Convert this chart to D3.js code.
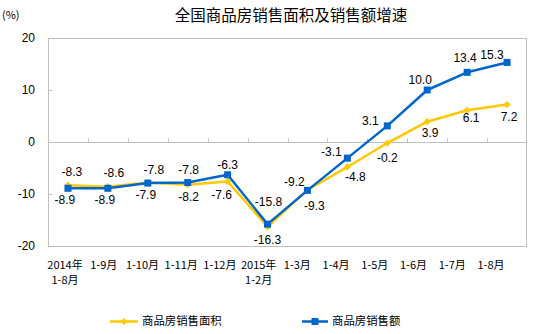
<!DOCTYPE html>
<html><head><meta charset="utf-8">
<script src="https://cdn.jsdelivr.net/npm/d3@7/dist/d3.min.js"></script>
<style>
html,body{margin:0;padding:0;background:#fff;}
svg{display:block;}
</style></head>
<body>
<svg id="chart" width="538" height="334"></svg>
<script>
const categories = ["2014年\n1-8月","1-9月","1-10月","1-11月","1-12月","2015年\n1-2月","1-3月","1-4月","1-5月","1-6月","1-7月","1-8月"];
const areaGrowth  = [-8.3,-8.6,-7.8,-8.2,-7.6,-16.3,-9.2,-4.8,-0.2,3.9,6.1,7.2];
const salesGrowth = [-8.9,-8.9,-7.9,-7.8,-6.3,-15.8,-9.3,-3.1,3.1,10.0,13.4,15.3];
const yTicks = [20,10,0,-10,-20];
const seriesNames = ["商品房销售面积","商品房销售额"];
const title = "全国商品房销售面积及销售额增速";

const svg = d3.select("#chart");
const L = 48, R = 527, T = 38, B = 246;
const yellow = "#FFC800", blue = "#0066CC", grid = "#BFBFBF";
const x = d3.scaleBand().domain(d3.range(categories.length)).range([L, R]);
const xc = i => x(i) + x.bandwidth()/2;
const y = d3.scaleLinear().domain([-20,20]).range([B, T]);
const xLab = d3.scalePoint().domain(d3.range(categories.length)).range([65, 491]);

// title
svg.append("text").attr("x",291).attr("y",16).attr("dy","0.35em").attr("text-anchor","middle")
  .style("font-family","'Noto Sans CJK SC'").style("font-size","15.5px").attr("fill","#000").text(title);
svg.append("text").attr("x",2).attr("y",15).attr("dy","0.35em")
  .style("font-family","'Noto Sans CJK SC'").style("font-size","11px").attr("fill","#000").text("(%)");

// frame
svg.append("rect").attr("x",L+0.5).attr("y",T+0.5).attr("width",R-L-1).attr("height",B-T)
  .attr("fill","none").attr("stroke",grid).attr("stroke-width",1);

// y axis
const yAxis = d3.axisRight(y).tickValues(yTicks).tickSize(4).tickFormat("");
const ga = svg.append("g").attr("transform",`translate(${L+0.5},0)`).call(yAxis);
ga.select(".domain").remove();
ga.selectAll("line").attr("stroke",grid);
svg.selectAll(".ylab").data(yTicks).enter().append("text")
  .attr("x",35).attr("y",d=>y(d)).attr("dy","0.35em").attr("text-anchor","end")
  .style("font-family","'Liberation Sans',Arial").style("font-size","12px").attr("fill","#000")
  .text(d=>d);

// zero line with upward ticks at category boundaries
const z = Math.round(y(0)) + 0.5;
svg.append("line").attr("x1",L).attr("x2",R).attr("y1",z).attr("y2",z).attr("stroke",grid);
svg.selectAll(".xt").data(d3.range(1,categories.length)).enter().append("line")
  .attr("x1",i=>Math.round(x(i))+0.5).attr("x2",i=>Math.round(x(i))+0.5)
  .attr("y1",z).attr("y2",z-4).attr("stroke",grid);

// x labels
categories.forEach((c,i)=>{
  const lines = c.split("\n");
  const t = svg.append("text").attr("text-anchor","middle")
    .style("font-family","'Noto Sans CJK SC'").style("font-size","11px").attr("fill","#000");
  lines.forEach((ln,k)=>{
    t.append("tspan").attr("x",xLab(i)).attr("y",265 + k*15).attr("dy","0.35em").text(ln);
  });
});

// lines
const line = d3.line().x((d,i)=>xc(i)).y(d=>y(d));
svg.append("path").datum(areaGrowth).attr("d",line).attr("fill","none")
  .attr("stroke",yellow).attr("stroke-width",2.5).attr("stroke-linejoin","round");
svg.selectAll(".dia").data(areaGrowth).enter().append("path")
  .attr("d",d3.symbol().type(d3.symbolDiamond2).size(34))
  .attr("transform",(d,i)=>`translate(${xc(i)},${y(d)})`).attr("fill",yellow);

svg.append("path").datum(salesGrowth).attr("d",line).attr("fill","none")
  .attr("stroke",blue).attr("stroke-width",2.5).attr("stroke-linejoin","round");
svg.selectAll(".sq").data(salesGrowth).enter().append("rect")
  .attr("x",(d,i)=>xc(i)-3.5).attr("y",d=>y(d)-3.5).attr("width",7).attr("height",7).attr("fill",blue);

// data labels: higher value above, lower value below
const nudgeAbove = [[4,-13],[6,-14],[6,-13],[1,-13],[0,-10],[1,-22],[-13,-8],[-16,-6],[-17,-5],[-7,-10],[-2,-15],[-15,-8]];
const nudgeBelow = [[-3,12],[-3,12],[-2,12],[1,12],[-6,13],[0,13],[7,15],[8,10],[0,15],[3,11],[4,8],[2,12]];
areaGrowth.forEach((a,i)=>{
  const s = salesGrowth[i];
  const hi = Math.max(a,s), lo = Math.min(a,s);
  const fmt = v => v.toFixed(1);
  svg.append("text").attr("x",xc(i)+nudgeAbove[i][0]).attr("y",y(hi)+nudgeAbove[i][1]).attr("dy","0.35em")
    .attr("text-anchor","middle").style("font-family","'Liberation Sans',Arial").style("font-size","12px")
    .attr("fill","#000").text(fmt(hi));
  svg.append("text").attr("x",xc(i)+nudgeBelow[i][0]).attr("y",y(lo)+nudgeBelow[i][1]).attr("dy","0.35em")
    .attr("text-anchor","middle").style("font-family","'Liberation Sans',Arial").style("font-size","12px")
    .attr("fill","#000").text(fmt(lo));
});

// legend
const legY = 321.5;
const leg = [{name:seriesNames[0],color:yellow,x0:110,x1:138,type:"d"},{name:seriesNames[1],color:blue,x0:302,x1:328,type:"s"}];
leg.forEach(l=>{
  svg.append("line").attr("x1",l.x0).attr("x2",l.x1).attr("y1",legY).attr("y2",legY).attr("stroke",l.color).attr("stroke-width",2.5);
  const m = (l.x0+l.x1)/2;
  if(l.type==="d"){
    svg.append("path").attr("d",d3.symbol().type(d3.symbolDiamond2).size(30)).attr("transform",`translate(${m},${legY})`).attr("fill",l.color);
  } else {
    svg.append("rect").attr("x",m-3.5).attr("y",legY-3.5).attr("width",7).attr("height",7).attr("fill",l.color);
  }
  svg.append("text").attr("x",l.x1+4).attr("y",legY).attr("dy","0.35em")
    .style("font-family","'Noto Sans CJK SC'").style("font-size","11.4px").attr("fill","#000").text(l.name);
});
</script>
</body></html>
